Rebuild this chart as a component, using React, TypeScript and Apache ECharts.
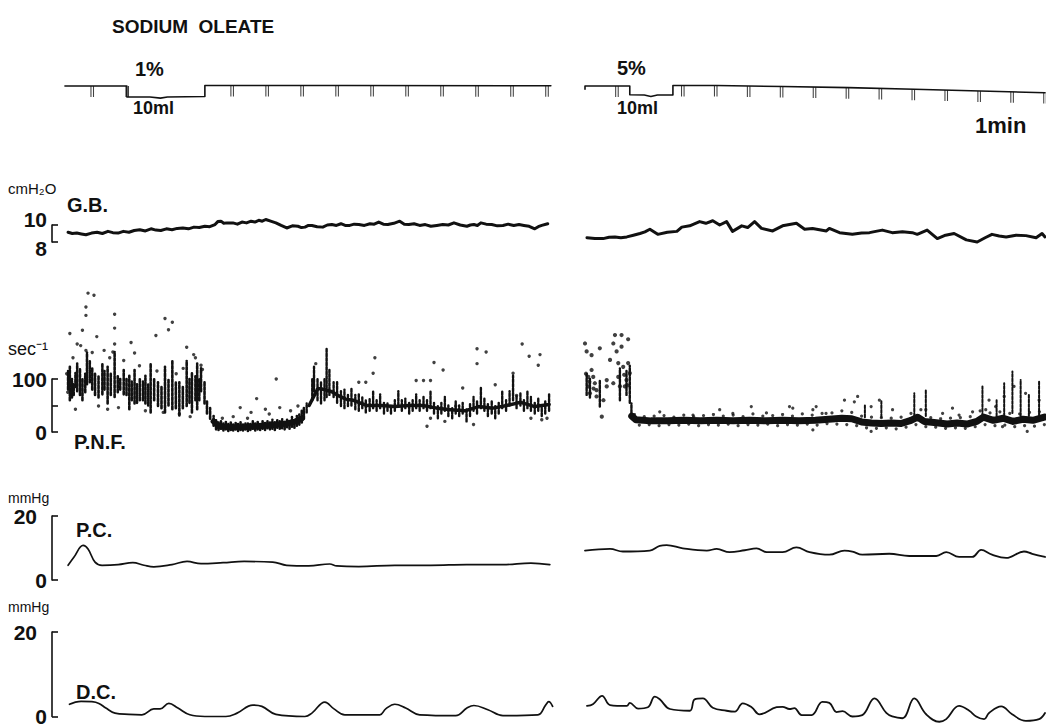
import React, { useEffect, useRef } from "react";
import * as echarts from "echarts";

const FONT = '"Liberation Sans", Arial, Helvetica, sans-serif';
const INK = "#111";

// ---------- data (time in seconds from start of each panel) ----------
// event-marker trace (0 = baseline, -1 = injection step)
const markerLeft = [[-0.3, 0], [17.4, 0], [17.4, -1], [24, -1], [27, -1.1], [29, -1], [39.7, -0.95], [39.7, 0.05], [80, 0.05], [138.6, 0.02]];
const markerRight = [[0, -0.3], [0, 0], [13.6, 0], [13.6, -0.8], [18, -0.82], [20, -0.95], [22, -0.82], [26.7, -0.82], [26.7, 0.05], [40, 0.05], [60, -0.05], [80, -0.15], [100, -0.3], [120, -0.45], [139.7, -0.62]];
const timerLeftTimes = [7.5, 17.5, 47.5, 57.5, 67.5, 77.5, 87.5, 97.5, 107.5, 117.5, 127.5, 137.5];
const timerLeftBase = [0, 0, 0.05, 0.05, 0.05, 0.05, 0.05, 0.04, 0.04, 0.03, 0.03, 0.02];
const timerRightTimes = [9.7, 29.7, 39.7, 49.7, 59.7, 69.7, 79.7, 89.7, 99.7, 109.7, 119.7, 129.7, 139.7];
const timerRightBase = [0, 0.05, 0.05, 0, -0.05, -0.1, -0.15, -0.22, -0.3, -0.37, -0.45, -0.52, -0.6];

// G.B. (cmH2O)
const gbLeft = [[0.6, 9.15], [1.8, 9.0], [3.1, 9.05], [4.4, 8.95], [5.7, 8.85], [7.3, 9.05], [8.9, 9.15], [10.4, 9.0], [12.0, 9.25], [13.4, 9.1], [14.9, 9.05], [16.4, 9.25], [18.0, 9.15], [19.5, 9.35], [21.1, 9.45], [22.7, 9.3], [24.3, 9.55], [25.7, 9.4], [27.1, 9.35], [28.7, 9.55], [30.3, 9.45], [31.8, 9.6], [33.4, 9.65], [35.0, 9.55], [36.6, 9.75], [38.1, 9.7], [39.7, 9.85], [41.1, 9.8], [42.6, 10.05], [43.4, 10.4], [44.3, 10.45], [45.1, 10.2], [46.0, 10.25], [47.7, 10.25], [49.0, 10.1], [50.3, 10.35], [51.6, 10.25], [52.9, 10.45], [54.0, 10.35], [55.1, 10.55], [56.1, 10.45], [57.1, 10.65], [58.5, 10.45], [60.0, 10.25], [61.5, 9.95], [63.1, 9.65], [64.7, 9.9], [66.3, 9.85], [67.3, 9.7], [68.3, 9.75], [69.3, 9.95], [70.3, 9.95], [71.8, 9.8], [73.4, 9.75], [74.7, 10.0], [76.0, 10.05], [77.3, 9.95], [78.6, 10.15], [79.8, 9.95], [81.1, 9.95], [82.4, 10.1], [83.7, 10.05], [85.3, 9.95], [86.9, 10.15], [88.1, 10.1], [89.4, 10.35], [90.7, 10.1], [92.0, 10.05], [93.7, 10.2], [95.4, 10.45], [96.7, 10.1], [98.0, 10.05], [99.5, 10.15], [101.1, 9.95], [102.7, 10.05], [104.3, 9.85], [106.0, 9.95], [107.7, 10.05], [109.3, 10.0], [110.9, 10.25], [112.7, 10.0], [114.6, 9.85], [115.6, 10.0], [116.6, 10.05], [117.6, 9.95], [118.6, 10.25], [120.1, 10.1], [121.7, 10.05], [123.3, 9.9], [124.9, 9.95], [126.4, 10.1], [128.0, 9.95], [129.5, 10.05], [130.9, 9.95], [132.4, 9.85], [134.0, 9.55], [135.0, 9.8], [136.0, 9.95], [137.7, 10.15]];
const gbRight = [[0.6, 8.5], [3.0, 8.4], [5.5, 8.4], [7.3, 8.55], [9.1, 8.6], [10.9, 8.5], [12.7, 8.6], [14.7, 8.8], [16.7, 9.0], [18.2, 9.2], [19.7, 9.5], [22.1, 8.9], [25.0, 9.15], [27.9, 9.25], [29.4, 9.75], [31.8, 9.9], [34.8, 10.4], [36.7, 10.2], [38.8, 10.5], [40.9, 10.0], [43.0, 10.4], [44.8, 9.25], [47.6, 9.9], [49.4, 9.7], [51.5, 10.4], [53.6, 9.6], [57.0, 9.3], [60.0, 9.9], [64.2, 10.2], [66.7, 9.5], [69.1, 9.6], [73.3, 9.3], [74.2, 9.6], [77.3, 9.1], [81.2, 8.9], [84.0, 9.05], [86.4, 9.1], [88.3, 9.25], [90.3, 9.4], [93.3, 9.1], [96.4, 9.2], [99.4, 9.1], [100.9, 8.9], [103.9, 9.4], [107.0, 8.4], [109.5, 8.8], [112.1, 9.0], [115.8, 8.25], [119.1, 8.0], [121.5, 8.5], [123.6, 8.9], [125.8, 8.7], [127.9, 8.6], [130.9, 8.8], [133.9, 8.75], [137.0, 8.5], [138.8, 9.0], [139.7, 8.6]];

// P.N.F. (impulses/sec) — vertical streaks [time, low, high] and single dots [time, value]
const pnfLeftEarlyStreaks = [[0.6, 80, 115], [1.1, 60, 123], [1.7, 65, 100], [2.2, 70, 90], [2.7, 85, 111], [3.2, 77, 129], [4.0, 70, 120], [4.7, 60, 100], [5.5, 75, 110], [6.0, 90, 150], [6.8, 94, 134], [7.5, 80, 120], [8.3, 70, 110], [9.3, 65, 105], [10.4, 71, 129], [11.0, 80, 115], [11.9, 54, 123], [12.8, 70, 110], [13.9, 66, 151], [14.8, 75, 105], [15.5, 80, 100], [16.5, 71, 117], [17.3, 70, 100], [18.1, 43, 106], [18.8, 60, 95], [19.6, 54, 117], [20.3, 55, 90], [21.1, 60, 100], [22.0, 60, 95], [22.7, 54, 106], [23.5, 50, 90], [24.2, 37, 129], [25.2, 60, 100], [26.3, 49, 94], [27.3, 45, 85], [28.3, 37, 123], [29.3, 50, 100], [30.4, 43, 134], [31.4, 45, 95], [32.4, 31, 94], [33.4, 45, 85], [34.5, 49, 134], [35.3, 55, 100], [36.0, 37, 111], [37.0, 60, 105], [37.5, 43, 129], [38.1, 60, 100], [38.6, 77, 120], [39.6, 54, 94], [40.3, 35, 60], [41.2, 25, 45]];
const pnfLeftLowStreaks = [[42.2, 12, 30], [42.9, 5, 22], [43.6, 4, 18], [44.3, 6, 20], [45.0, 3, 16], [45.7, 5, 19], [46.4, 2, 15], [47.1, 4, 18], [47.8, 3, 14], [48.5, 5, 17], [49.2, 2, 15], [49.9, 4, 19], [50.6, 3, 14], [51.3, 5, 16], [52.0, 2, 18], [52.7, 4, 15], [53.4, 6, 20], [54.1, 3, 16], [54.8, 5, 19], [55.5, 4, 15], [56.2, 6, 22], [56.9, 4, 17], [57.6, 7, 20], [58.3, 5, 18], [59.0, 6, 23], [59.7, 4, 19], [60.4, 8, 22], [61.1, 6, 20], [61.8, 7, 24], [62.5, 5, 19], [63.2, 9, 25], [63.9, 6, 22], [64.6, 10, 28], [65.3, 8, 24], [66.0, 12, 30], [66.7, 14, 33], [67.4, 18, 40], [68.0, 25, 45]];
const pnfLeftLowCore = [[42.2, 20], [43.7, 11], [46.8, 9], [50.9, 9], [55, 11], [59.1, 13], [63.2, 16], [65.2, 19], [67.3, 25]];
const pnfLeftLateStreaks = [[68.8, 37, 54], [70.4, 60, 100], [70.9, 77, 123], [71.9, 60, 100], [72.9, 54, 94], [73.9, 60, 100], [74.5, 66, 157], [75.3, 70, 117], [76.5, 66, 94], [77.5, 55, 94], [78.6, 49, 77], [79.6, 45, 80], [80.6, 49, 70], [81.6, 50, 83], [82.7, 43, 70], [83.7, 40, 71], [84.7, 45, 65], [85.7, 37, 60], [86.8, 40, 62], [87.8, 45, 77], [88.8, 40, 60], [89.8, 45, 71], [90.9, 35, 55], [91.9, 40, 54], [92.9, 35, 50], [94.0, 40, 60], [95.0, 50, 77], [96.0, 40, 60], [97.0, 45, 63], [98.1, 35, 55], [99.1, 40, 60], [100.1, 45, 71], [101.1, 40, 60], [102.2, 45, 66], [103.2, 40, 60], [104.2, 45, 77], [105.2, 35, 55], [106.3, 26, 50], [107.3, 35, 55], [108.3, 40, 66], [109.3, 30, 50], [110.4, 26, 45], [111.4, 35, 60], [112.4, 30, 50], [113.4, 35, 55], [114.5, 20, 45], [115.5, 30, 55], [116.5, 40, 66], [117.5, 35, 60], [118.6, 45, 83], [119.6, 40, 65], [120.6, 30, 55], [121.7, 35, 60], [122.7, 26, 50], [123.7, 35, 55], [124.7, 45, 77], [125.8, 40, 60], [126.8, 50, 77], [127.8, 60, 106], [128.8, 45, 70], [129.9, 50, 75], [130.9, 40, 60], [131.9, 45, 77], [132.9, 40, 66], [134.0, 35, 55], [135.0, 40, 65], [136.0, 30, 50], [137.0, 35, 60], [138.1, 40, 71]];
const pnfLeftLateCore = [[69.5, 50], [72, 82], [74, 80], [76, 76], [78, 68], [80, 62], [82, 60], [84, 55], [86, 50], [90, 50], [94, 48], [98, 50], [102, 50], [106, 45], [110, 42], [114, 40], [118, 48], [122, 45], [126, 50], [130, 56], [134, 48], [138.1, 52]];
const pnfLeftDots = [[6.3, 262], [8.0, 258], [5.7, 236], [5.7, 220], [4.7, 192], [1.1, 186], [3.2, 166], [4.2, 163], [5.7, 154], [8.8, 180], [10.9, 154], [13.9, 222], [13.9, 196], [13.9, 166], [13.4, 151], [18.6, 169], [19.6, 149], [25.7, 182], [28.3, 214], [30.4, 207], [29.3, 193], [34.5, 160], [36.5, 146], [38.6, 126], [2.7, 43], [9.3, 49], [11.9, 43], [15.0, 46], [22.7, 40], [27.8, 37], [32.4, 34], [35.5, 29], [0.2, 110], [0.5, 75], [2.0, 140], [7.5, 150], [12.5, 140], [16.5, 135], [21.0, 125], [26.0, 115], [31.5, 110], [33.5, 120], [37.0, 140], [39.0, 118],
  [49.8, 46], [54.5, 63], [57.0, 43], [60.1, 100], [61.1, 46], [64.2, 40], [66.3, 49], [52.9, 37], [58.1, 34], [44.7, 26], [47.8, 29], [51.9, 26],
  [88.3, 140], [105.2, 131], [107.8, 117], [117.5, 157], [120.1, 151], [117.5, 129], [130.4, 166], [132.4, 143], [135.5, 146], [135.0, 126], [100.1, 97], [102.2, 97], [104.2, 97], [85.7, 94], [127.8, 111], [128.8, 69], [122.7, 89], [113.4, 83], [111.4, 49], [103.2, 11], [104.2, 26], [108.3, 20], [116.5, 14], [132.9, 26], [136.0, 23], [137.5, 26], [71.4, 129], [87.8, 111], [83.7, 94]];

const pnfRightEarlyStreaks = [[0.5, 70, 110], [1.5, 65, 100], [4.5, 48, 98], [10.6, 60, 120], [12.6, 70, 115], [13.6, 55, 125], [14.1, 28, 54]];
const pnfRightEarlyDots = [[0, 167], [0.5, 152], [1.0, 104], [1.5, 73], [2.0, 145], [2.0, 117], [3.0, 92], [3.5, 67], [4.5, 158], [5.1, 29], [5.6, 60], [6.6, 98], [7.6, 136], [8.6, 167], [9.1, 183], [9.6, 152], [10.1, 130], [10.6, 86], [11.1, 183], [11.1, 161], [12.6, 98], [13.1, 175], [13.1, 130], [13.6, 111], [1.0, 86], [2.5, 104], [3.5, 79], [6.6, 86], [8.6, 92], [10.1, 104], [12.1, 86], [11.6, 123], [0.3, 110], [1.3, 95], [2.6, 82], [11.9, 108], [12.9, 88]];
const pnfRightBandCore = [[14.2, 30], [15.5, 23], [20, 21], [25, 21], [30, 22], [35, 21], [40, 22], [45, 21], [50, 22], [55, 21], [60, 22], [65, 21], [70, 22], [74, 24], [78, 26], [81, 25], [84, 19], [87, 17], [90, 16], [93, 17], [96, 16], [99, 22], [101, 28], [103, 20], [106, 18], [110, 15], [113, 17], [116, 15], [119, 20], [121, 28], [124, 22], [127, 26], [130, 20], [133, 24], [136, 22], [139.5, 28]];
const pnfRightBandDots = [[15, 33], [16.5, 13], [18, 29], [19.5, 14], [21, 30], [22.5, 12], [24, 31], [25.5, 14], [27, 28], [28.5, 13], [30, 32], [31.5, 15], [33, 29], [34.5, 12], [36, 31], [37.5, 14], [39, 33], [40.5, 13], [42, 30], [43.5, 15], [45, 32], [46.5, 12], [48, 29], [49.5, 14], [51, 34], [52.5, 13], [54, 30], [55.5, 15], [57, 31], [58.5, 12], [60, 33], [61.5, 14], [63, 30], [64.5, 13], [66, 34], [67.5, 15], [69, 32], [70.5, 13], [72, 35], [73.5, 16], [75, 36], [76.5, 15], [78, 40], [79.5, 14], [81, 37], [82.5, 12], [84, 30], [85.5, 8], [87, 28], [88.5, 7], [90, 27], [91.5, 8], [93, 26], [94.5, 6], [96, 28], [97.5, 9], [99, 35], [100.5, 14], [102, 42], [103.5, 10], [105, 27], [106.5, 9], [108, 25], [109.5, 7], [111, 26], [112.5, 8], [114, 27], [115.5, 7], [117, 29], [118.5, 10], [120, 40], [121.5, 14], [123, 36], [124.5, 12], [126, 38], [127.5, 13], [129, 35], [130.5, 10], [132, 34], [133.5, 12], [135, 37], [136.5, 11], [138, 38], [139.5, 14]];
const pnfRightSpikes = [[100, 30, 73], [103.5, 30, 79], [120.7, 30, 86], [127.3, 30, 92], [129.8, 36, 114], [132.3, 30, 98], [137.9, 30, 95], [85, 28, 50], [90, 28, 58], [125, 30, 60], [134.8, 30, 70]];
const pnfRightDots = [[50.5, 48], [62.1, 48], [69.2, 42], [70.2, 48], [78.8, 60], [81.8, 57], [82.8, 67], [86.9, 48], [89.4, 60], [103.5, 42], [111.6, 45], [122.7, 60], [124.7, 48], [127.3, 67], [130.3, 86], [133.8, 73], [137.9, 60], [121.7, 42], [117.7, 38], [86.9, 1], [134.3, 1], [126.8, 10], [69.2, 4], [22.7, 38], [32.8, 32], [40.9, 42], [44.9, 35], [55.1, 36], [63.1, 45], [73.2, 35], [93.4, 42], [108.6, 35], [113.6, 32]];

// P.C. (mmHg)
const pcLeft = [[0.6, 4.6], [2.3, 7.2], [4.9, 10.8], [6.3, 9.7], [8.3, 5.6], [10.3, 4.6], [14.9, 4.8], [19.1, 5.4], [22.3, 4.6], [25.1, 4.1], [30.3, 4.8], [34.6, 5.8], [38.6, 5.1], [44.9, 5.4], [50.9, 5.8], [59.1, 5.6], [63.1, 4.6], [69.4, 4.4], [75.4, 5.0], [77.4, 4.4], [83.7, 4.2], [94.0, 4.6], [104.3, 4.6], [114.6, 4.8], [124.9, 4.8], [132.9, 5.3], [138.3, 4.8]];
const pcRight = [[0, 9.2], [7.6, 9.7], [11.5, 8.9], [19.7, 9.2], [22.7, 10.7], [24.8, 10.9], [29.7, 9.9], [37.0, 9.2], [40.0, 9.7], [43.9, 8.7], [48.5, 9.3], [52.1, 9.9], [55.2, 8.7], [60.0, 8.7], [64.2, 10.2], [68.2, 8.7], [74.2, 7.9], [78.8, 9.2], [81.2, 8.9], [84.2, 7.9], [92.4, 8.2], [98.5, 7.5], [106.7, 7.5], [109.7, 8.7], [113.6, 7.2], [117.6, 7.2], [120.3, 9.4], [123.6, 7.9], [127.9, 6.9], [133.3, 8.9], [135.8, 8.2], [139.7, 7.2]];

// D.C. (mmHg)
const dcLeft = [[1.0, 2.9], [2.3, 3.3], [4.3, 3.6], [7.4, 3.5], [9.4, 3.1], [11.4, 2.0], [14.0, 0.8], [18.0, 0.5], [21.7, 0.4], [25.1, 1.8], [26.9, 1.8], [29.4, 3.1], [32.0, 2.0], [35.4, 0.4], [39.7, 0.0], [45.7, 0.0], [48.9, 0.8], [53.4, 2.7], [56.0, 2.4], [60.0, 0.5], [68.3, 0.0], [70.3, 0.8], [74.0, 3.4], [76.6, 1.8], [79.7, 0.4], [89.7, 0.4], [91.4, 1.8], [94.0, 2.9], [97.1, 2.0], [101.1, 0.4], [111.4, 0.2], [114.6, 2.0], [116.6, 2.6], [120.6, 1.6], [124.9, 0.2], [134.9, 0.4], [137.1, 2.7], [138.0, 3.5], [139.1, 2.4]];
const dcRight = [[0.6, 3.2], [2.4, 3.6], [5.2, 5.5], [7.6, 3.4], [12.7, 3.2], [13.6, 3.9], [16.1, 2.6], [19.1, 2.9], [21.2, 5.3], [22.7, 4.7], [25.8, 2.5], [31.8, 2.1], [33.3, 4.7], [35.8, 4.9], [38.8, 2.8], [43.0, 2.1], [45.5, 1.9], [47.9, 3.8], [50.6, 2.9], [53.0, 1.3], [58.2, 2.9], [60.0, 3.0], [62.1, 2.5], [63.6, 2.7], [65.8, 1.1], [68.8, 1.1], [72.1, 4.1], [74.2, 3.9], [76.4, 1.8], [78.2, 2.0], [81.2, 0.8], [84.2, 1.1], [87.9, 4.9], [91.5, 1.6], [93.3, 0.8], [96.4, 0.4], [100.0, 4.9], [103.6, 1.3], [107.6, -0.4], [109.7, 0.2], [113.6, 3.2], [116.7, 2.1], [118.8, 0.8], [121.2, 0.2], [122.7, 1.6], [126.4, 3.1], [129.7, 1.3], [133.9, -0.2], [137.9, 0.2], [139.7, 1.6]];

// scale brackets: [min, max, tick interval]
const scaleGB = [8, 10, 2];
const scalePNF = [0, 100, 50];
const scalePC = [0, 20, 20];
const scaleDC = [0, 20, 20];

// ---------- chart ----------
const ROWS = [
  { top: 75, height: 33, scale: [-2, 1, 1], bracket: false, maxPad: [0, 0, 0, 0], minPad: [0, 0, 0, 0] },
  { top: 225, height: 17, scale: scaleGB, bracket: true, maxPad: [0, 0, 12, 0], minPad: [12, 0, 0, 0] },
  { top: 379, height: 53, scale: scalePNF, bracket: true, maxPad: [0, 0, 0, 0], minPad: [0, 0, 0, 0] },
  { top: 516, height: 64, scale: scalePC, bracket: true, maxPad: [0, 10, 0, 0], minPad: [0, 0, 0, 0] },
  { top: 632, height: 88, scale: scaleDC, bracket: true, maxPad: [0, 10, 0, 0], minPad: [0, 0, 0, 0] },
];
const COLS = [
  { left: 52, width: 502, min: -4, max: 139.5 },
  { left: 585, width: 462, min: 0, max: 140 },
];

function buildOption() {
  const grid: any[] = [];
  const xAxis: any[] = [];
  const yAxis: any[] = [];
  ROWS.forEach((r, ri) => {
    COLS.forEach((c, ci) => {
      const gi = ri * 2 + ci;
      grid.push({ left: c.left, top: r.top, width: c.width, height: r.height });
      xAxis.push({ type: "value", gridIndex: gi, min: c.min, max: c.max, show: false });
      const showAxis = r.bracket && ci === 0;
      yAxis.push({
        type: "value",
        gridIndex: gi,
        min: r.scale[0],
        max: r.scale[1],
        interval: r.scale[2],
        show: showAxis,
        splitLine: { show: false },
        axisLine: { show: true, onZero: false, lineStyle: { color: INK, width: 1.6 } },
        axisTick: { show: true, inside: true, length: 6, lineStyle: { color: INK, width: 1.6 } },
        axisLabel: {
          show: true,
          color: INK,
          fontSize: 21,
          fontWeight: "bold",
          fontFamily: FONT,
          margin: 5,
          formatter: (v: number) =>
            v === r.scale[1] ? `{mx|${v}}` : v === r.scale[0] ? `{mn|${v}}` : "",
          rich: {
            mx: { fontSize: 21, fontWeight: "bold", fontFamily: FONT, color: INK, padding: r.maxPad },
            mn: { fontSize: 21, fontWeight: "bold", fontFamily: FONT, color: INK, padding: r.minPad },
          },
        },
      });
    });
  });

  const line = (data: any[], gi: number, width: number, extra: any = {}) => ({
    type: "line", data, xAxisIndex: gi, yAxisIndex: gi, showSymbol: false, symbol: "none",
    clip: false, silent: true, lineStyle: { color: INK, width, join: "round", cap: "round" }, ...extra,
  });
  const dots = (data: any[], gi: number, size: number) => ({
    type: "scatter", data, xAxisIndex: gi, yAxisIndex: gi, symbol: "circle", symbolSize: size,
    clip: false, silent: true, itemStyle: { color: INK },
  });
  const streaks = (data: any[], gi: number, width: number) => ({
    type: "custom", data, xAxisIndex: gi, yAxisIndex: gi, silent: true, clip: false,
    encode: { x: 0, y: [1, 2] },
    renderItem: (_p: any, api: any) => {
      const a = api.coord([api.value(0), api.value(1)]);
      const b = api.coord([api.value(0), api.value(2)]);
      return {
        type: "line",
        shape: { x1: a[0], y1: a[1], x2: b[0], y2: b[1] },
        style: { stroke: INK, lineWidth: width, lineDash: [3, 1.5], lineCap: "round" },
      };
    },
  });
  const timer = (times: number[], base: number[], gi: number) => ({
    type: "scatter", data: times.map((t, i) => [t, base[i]]), xAxisIndex: gi, yAxisIndex: gi,
    symbol: "path://M0,0H1V10H0Z M2.4,0H3.4V10H2.4Z", symbolSize: [3.6, 11], symbolOffset: [0, 5.5],
    clip: false, silent: true, itemStyle: { color: INK },
  });

  const series = [
    line(markerLeft, 0, 1.6), line(markerRight, 1, 1.6),
    timer(timerLeftTimes, timerLeftBase, 0), timer(timerRightTimes, timerRightBase, 1),
    line(gbLeft, 2, 3), line(gbRight, 3, 3),
    streaks(pnfLeftEarlyStreaks, 4, 2.6),
    line(pnfLeftLowCore, 4, 6), streaks(pnfLeftLowStreaks, 4, 2.6),
    line(pnfLeftLateCore, 4, 3.5), streaks(pnfLeftLateStreaks, 4, 2.4),
    dots(pnfLeftDots, 4, 3.4),
    streaks(pnfRightEarlyStreaks, 5, 2.4), dots(pnfRightEarlyDots, 5, 4.2),
    line(pnfRightBandCore, 5, 7), dots(pnfRightBandDots, 5, 3.2),
    streaks(pnfRightSpikes, 5, 2), dots(pnfRightDots, 5, 3.2),
    line(pcLeft, 6, 1.7, { smooth: 0.4 }), line(pcRight, 7, 1.8, { smooth: 0.4 }),
    line(dcLeft, 8, 1.7, { smooth: 0.4 }), line(dcRight, 9, 1.8, { smooth: 0.4 }),
  ];

  const txt = (text: string, left: number, top: number, size: number, bold = true) => ({
    type: "text", left, top, silent: true,
    style: { text, fontSize: size, fontWeight: bold ? "bold" : "normal", fontFamily: FONT, fill: INK },
  });

  return {
    animation: false,
    backgroundColor: "#fff",
    title: {
      text: "SODIUM  OLEATE", left: 112, top: 17, padding: 0,
      textStyle: { fontSize: 19, fontWeight: "bold", fontFamily: FONT, color: INK },
    },
    grid, xAxis, yAxis, series,
    graphic: [
      txt("1%", 135, 59, 20), txt("10ml", 133, 99, 18),
      txt("5%", 617, 58, 20), txt("10ml", 617, 99, 18), txt("1min", 975, 114, 22),
      txt("cmH₂O", 8, 181, 15, false), txt("G.B.", 67, 195, 20),
      txt("sec⁻¹", 8, 340, 18, false), txt("P.N.F.", 74, 432, 20),
      txt("mmHg", 8, 491, 14, false), txt("P.C.", 76, 520, 20),
      txt("mmHg", 8, 600, 14, false), txt("D.C.", 76, 682, 20),
    ],
  };
}

export default function App() {
  const ref = useRef<HTMLDivElement>(null);
  useEffect(() => {
    document.body.style.margin = "0";
    if (!ref.current) return;
    const chart = echarts.init(ref.current, undefined, { renderer: "svg" });
    chart.setOption(buildOption() as any);
    return () => chart.dispose();
  }, []);
  return <div ref={ref} style={{ position: "absolute", left: 0, top: 0, width: 1046, height: 727, background: "#fff" }} />;
}
